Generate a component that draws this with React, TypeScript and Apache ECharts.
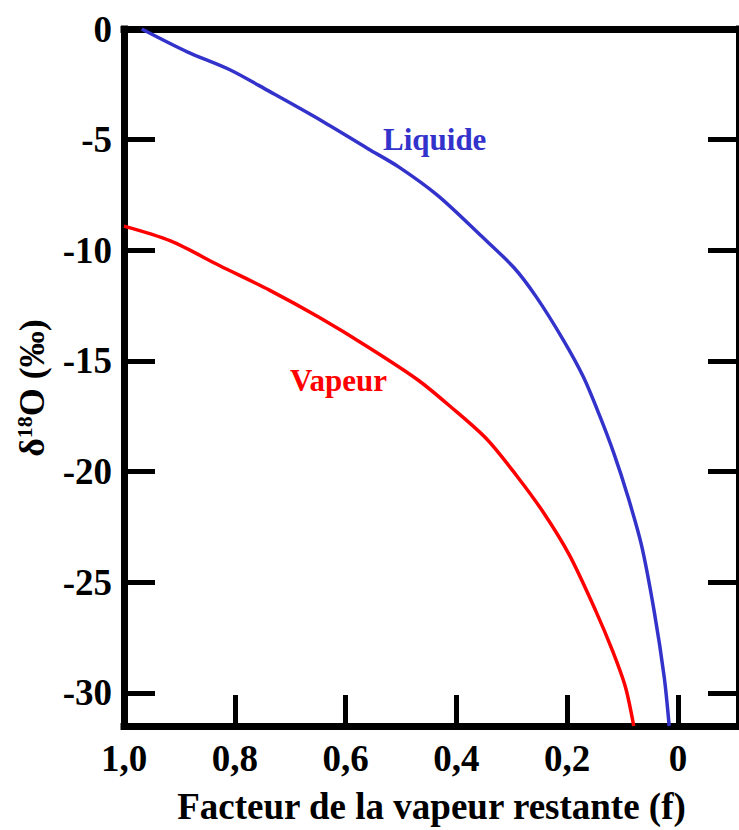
import React, { useEffect, useRef } from "react";
import * as echarts from "echarts";

// Fraction of remaining vapour (f) and δ18O (‰)
const liquidF = [0.968, 0.886, 0.809, 0.7375, 0.648, 0.559, 0.505, 0.434, 0.357, 0.296, 0.255, 0.207, 0.171, 0.141, 0.116, 0.091, 0.066, 0.043, 0.025, 0.016];
const liquidD = [0, -1.03, -1.84, -2.82, -4.08, -5.42, -6.22, -7.52, -9.31, -10.79, -12.14, -14.06, -15.72, -17.51, -19.17, -21.09, -23.33, -26.33, -29.29, -31.5];

const vaporF = [1.0, 0.916, 0.827, 0.7375, 0.648, 0.559, 0.47, 0.411, 0.345, 0.291, 0.243, 0.196, 0.148, 0.118, 0.095, 0.08];
const vaporD = [-8.91, -9.58, -10.7, -11.8, -13.03, -14.38, -15.85, -17.06, -18.54, -20.2, -21.85, -23.78, -26.33, -28.12, -29.74, -31.5];

const xTicks = [1, 0.8, 0.6, 0.4, 0.2, 0];
const yTicks = [0, -5, -10, -15, -20, -25, -30];

const FONT = '"Liberation Serif", "Times New Roman", serif';

export default function App() {
  const ref = useRef<HTMLDivElement>(null);
  useEffect(() => {
    if (!ref.current) return;
    const chart = echarts.init(ref.current, null, { renderer: "svg" });
    const axisLine = { show: true, onZero: false, lineStyle: { color: "#000", width: 7, cap: "square" } };
    const tick = { show: true, inside: true, length: 31, lineStyle: { color: "#000", width: 5 } };
    chart.setOption({
      animation: false,
      backgroundColor: "#fff",
      grid: { left: 124, top: 29, width: 622, height: 702, containLabel: false },
      xAxis: [
        {
          type: "value",
          inverse: true,
          min: -0.11,
          max: 1,
          position: "bottom",
          axisLine,
          axisTick: { ...tick, customValues: xTicks },
          axisLabel: {
            customValues: xTicks,
            margin: 14,
            color: "#000",
            fontFamily: FONT,
            fontWeight: "bold",
            fontSize: 37,
            formatter: (v: number) => (v === 0 ? "0" : v.toFixed(1).replace(".", ",")),
          },
          splitLine: { show: false },
          name: "Facteur de la vapeur restante (f)",
          nameLocation: "middle",
          nameGap: 62,
          nameTextStyle: { color: "#000", fontFamily: FONT, fontWeight: "bold", fontSize: 37 },
        },
        {
          type: "value",
          inverse: true,
          min: -0.11,
          max: 1,
          position: "top",
          axisLine,
          axisTick: { show: false },
          axisLabel: { show: false },
          splitLine: { show: false },
        },
      ],
      yAxis: [
        {
          type: "value",
          min: -31.5,
          max: 0,
          position: "left",
          axisLine,
          axisTick: { ...tick, customValues: yTicks },
          axisLabel: {
            customValues: yTicks,
            margin: 12,
            color: "#000",
            fontFamily: FONT,
            fontWeight: "bold",
            fontSize: 37,
            formatter: (v: number) => String(v),
          },
          splitLine: { show: false },
        },
        {
          type: "value",
          min: -31.5,
          max: 0,
          position: "right",
          axisLine,
          axisTick: { ...tick, customValues: yTicks },
          axisLabel: { show: false },
          splitLine: { show: false },
        },
      ],
      series: [
        {
          name: "Liquide",
          type: "line",
          data: liquidF.map((f, i) => [f, liquidD[i]]),
          showSymbol: false,
          smooth: 0.3,
          lineStyle: { color: "#3333CC", width: 3.5 },
          z: 1,
        },
        {
          name: "Vapeur",
          type: "line",
          data: vaporF.map((f, i) => [f, vaporD[i]]),
          showSymbol: false,
          smooth: 0.3,
          lineStyle: { color: "#FF0000", width: 3.5 },
          z: 1,
        },
      ],
      graphic: [
        {
          type: "text",
          left: 383,
          top: 124,
          style: { text: "Liquide", fill: "#3333CC", font: `bold 31px ${FONT}` },
        },
        {
          type: "text",
          left: 290,
          top: 365,
          style: { text: "Vapeur", fill: "#FF0000", font: `bold 31px ${FONT}` },
        },
        {
          type: "text",
          x: 32,
          y: 388,
          rotation: Math.PI / 2,
          style: {
            text: "{d|δ}{s|18}{d|O (‰)}",
            align: "center",
            verticalAlign: "middle",
            rich: {
              d: { fill: "#000", fontFamily: FONT, fontWeight: "bold", fontSize: 36, lineHeight: 38 },
              s: { fill: "#000", fontFamily: FONT, fontWeight: "bold", fontSize: 22, lineHeight: 38, verticalAlign: "top", padding: [0, 0, 12, 0] },
            },
          },
        },
      ],
    });
    return () => chart.dispose();
  }, []);
  return (
    <div
      ref={ref}
      style={{ position: "fixed", left: 0, top: 0, width: 739, height: 830 }}
    />
  );
}
